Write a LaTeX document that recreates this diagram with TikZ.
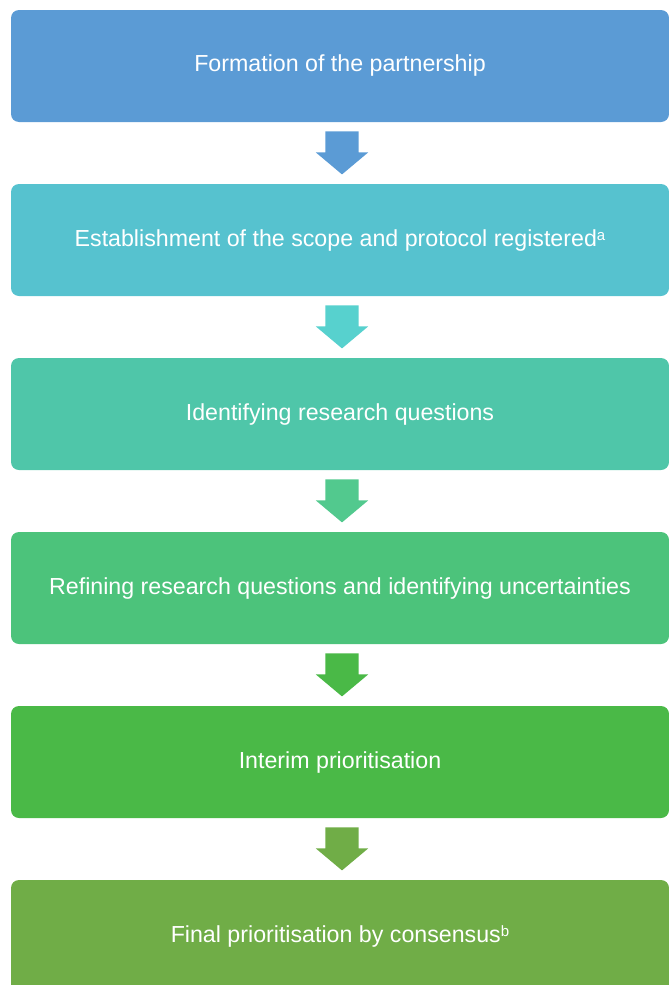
\documentclass[tikz,border=0pt]{standalone}
\usepackage{fontspec}
\setmainfont{Liberation Sans}
\usetikzlibrary{positioning,calc,shapes.arrows}
\definecolor{cblue}{HTML}{5B9BD5}
\definecolor{ccyan}{HTML}{56C2CF}
\definecolor{cteal}{HTML}{4FC6A9}
\definecolor{cmint}{HTML}{4CC37B}
\definecolor{cgreen}{HTML}{4AB947}
\definecolor{colive}{HTML}{70AD47}
\definecolor{aqua}{HTML}{57D1CE}
\definecolor{jade}{HTML}{52C98E}
\newcommand{\notemark}[1]{\raisebox{6pt}{\fontsize{15}{15}\selectfont #1}}
\begin{document}
\begin{tikzpicture}[
    x=1pt,y=1pt,
    stage/.style={rectangle,rounded corners=8pt,minimum width=658pt,minimum height=112pt,
        inner sep=0pt,text=white,font=\fontsize{23.2}{28}\selectfont},
    down/.style={single arrow,shape border rotate=270,minimum height=43pt,anchor=tail,
        single arrow head extend=9.5pt,single arrow tip angle=100,inner xsep=16.5pt,inner ysep=0pt},
    node distance=61.6pt,
]
    \useasboundingbox (0,0) rectangle (669,-985);
    \node[stage,fill=cblue] (s1) at (340,-66) {Formation of the partnership};
    \node[stage,fill=ccyan,below=of s1] (s2) {Establishment of the scope and protocol registered\notemark{a}};
    \node[stage,fill=cteal,below=of s2] (s3) {Identifying research questions};
    \node[stage,fill=cmint,below=of s3] (s4) {Refining research questions and identifying uncertainties};
    \node[stage,fill=cgreen,below=of s4] (s5) {Interim prioritisation};
    \node[stage,fill=colive,below=of s5] (s6) {Final prioritisation by consensus\notemark{b}};
    \node[down,fill=cblue] (a1) at ($(s1.south)+(2,-9)$) {};
    \node[down,fill=aqua] (a2) at ($(s2.south)+(2,-9)$) {};
    \node[down,fill=jade] (a3) at ($(s3.south)+(2,-9)$) {};
    \node[down,fill=cgreen] (a4) at ($(s4.south)+(2,-9)$) {};
    \node[down,fill=colive] (a5) at ($(s5.south)+(2,-9)$) {};
\end{tikzpicture}
\end{document}
